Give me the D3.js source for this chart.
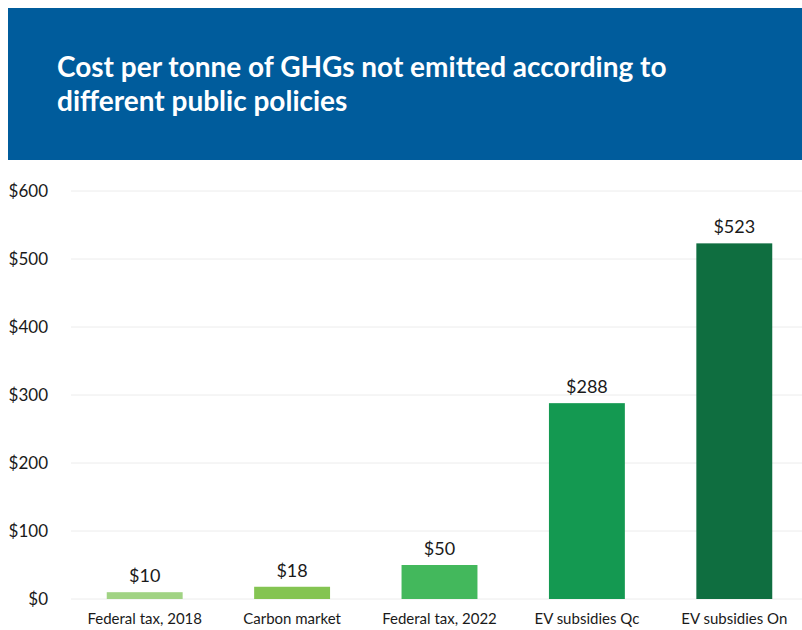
<!DOCTYPE html>
<html>
<head>
<meta charset="utf-8">
<script src="https://cdn.jsdelivr.net/npm/d3@7"></script>
<style>
  body { margin: 0; background: #fff; }
  svg { display: block; font-family: "Lato", "Open Sans", sans-serif; }
</style>
</head>
<body>
<svg width="802" height="630"></svg>
<script>
// data
const categories = ["Federal tax, 2018", "Carbon market", "Federal tax, 2022", "EV subsidies Qc", "EV subsidies On"];
const values = [10, 18, 50, 288, 523];
const colors = ["#a1d384", "#84c452", "#43b85c", "#149951", "#0f6e40"];
const yTicks = [0, 100, 200, 300, 400, 500, 600];
const titleLines = ["Cost per tonne of GHGs not emitted according to", "different public policies"];

const svg = d3.select("svg");

// header
svg.append("rect")
  .attr("x", 8).attr("y", 8)
  .attr("width", 794).attr("height", 152)
  .attr("fill", "#005c9c");

svg.append("g").selectAll("text")
  .data(titleLines)
  .join("text")
  .attr("x", 57)
  .attr("y", (d, i) => 77 + i * 34)
  .attr("fill", "#fff")
  .style("font-size", "28px")
  .style("font-weight", "bold")
  .text(d => d);

// scales
const x = d3.scaleBand()
  .domain(categories)
  .range([71, 808])
  .paddingInner(0.485)
  .paddingOuter(0.2425);

const y = d3.scaleLinear()
  .domain([0, 600])
  .range([599, 191]);

// grid
svg.append("g").selectAll("line")
  .data(yTicks)
  .join("line")
  .attr("x1", 71).attr("x2", 802)
  .attr("y1", d => y(d)).attr("y2", d => y(d))
  .attr("stroke", "#ececec")
  .attr("stroke-width", 1);

// y axis
const yAxis = svg.append("g")
  .attr("transform", "translate(48,0)")
  .call(d3.axisLeft(y).tickValues(yTicks).tickSize(0).tickPadding(0).tickFormat(d => "$" + d));
yAxis.select(".domain").remove();
yAxis.selectAll("text")
  .attr("fill", "#1a1a1a")
  .style("font-size", "17px")
  .style("font-family", "Lato, 'Open Sans', sans-serif");

// bars
svg.append("g").selectAll("rect")
  .data(values)
  .join("rect")
  .attr("x", (d, i) => x(categories[i]))
  .attr("y", d => y(d))
  .attr("width", x.bandwidth())
  .attr("height", d => y(0) - y(d))
  .attr("fill", (d, i) => colors[i]);

// value labels
svg.append("g").selectAll("text")
  .data(values)
  .join("text")
  .attr("x", (d, i) => x(categories[i]) + x.bandwidth() / 2)
  .attr("y", d => y(d) - 10)
  .attr("text-anchor", "middle")
  .attr("fill", "#1a1a1a")
  .style("font-size", "18px")
  .text(d => "$" + d);

// x axis
const xAxis = svg.append("g")
  .attr("transform", "translate(0,599)")
  .call(d3.axisBottom(x).tickSize(0).tickPadding(14));
xAxis.select(".domain").remove();
xAxis.selectAll("text")
  .attr("fill", "#1a1a1a")
  .style("font-size", "15px")
  .style("font-family", "Lato, 'Open Sans', sans-serif");
</script>
</body>
</html>
